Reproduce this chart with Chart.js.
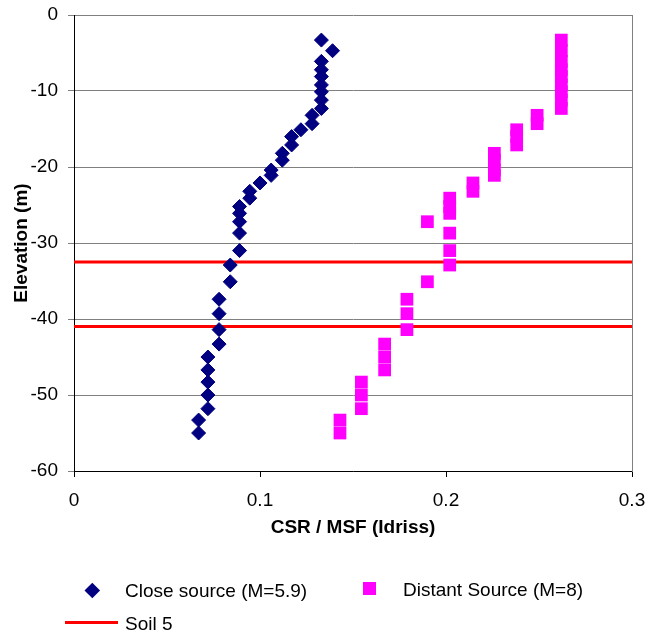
<!DOCTYPE html>
<html>
<head>
<meta charset="utf-8">
<script src="https://cdn.jsdelivr.net/npm/chart.js@4/dist/chart.umd.min.js"></script>
<style>
    body { margin: 0; background: #fff; }
    #wrap { position: relative; width: 648px; height: 634px; font-family: "Liberation Sans", Arial, sans-serif; }
    #chart { position: absolute; left: 0; top: 0; }
    .lg { position: absolute; font-size: 19px; line-height: 22px; color: #000; white-space: nowrap; }
    .sym { position: absolute; }
</style>
</head>
<body>
<div id="wrap">
    <canvas id="chart" width="648" height="634"></canvas>
    <div class="sym" style="left:87px; top:585px; width:10.6px; height:10.6px; background:#000080; transform:rotate(45deg);"></div>
    <div class="lg" style="left:125px; top:580px;">Close source (M=5.9)</div>
    <div class="sym" style="left:363px; top:582px; width:13px; height:13px; background:#FF00FF;"></div>
    <div class="lg" style="left:403px; top:579px;">Distant Source (M=8)</div>
    <div class="sym" style="left:65px; top:621px; width:53px; height:3px; background:#FF0000;"></div>
    <div class="lg" style="left:125px; top:613px;">Soil 5</div>
</div>
<script>
// Elevation of each sample (m), shared by both series.
const elevations = [
    -3.3, -4.7, -6.1, -7.2, -8.1, -9.2, -10.1, -11.2, -12.3, -13.2,
    -14.3, -15.1, -16.0, -17.1, -18.2, -19.1, -20.4, -21.1, -22.1, -23.2,
    -24.1, -25.2, -26.1, -27.2, -28.7, -31.0, -32.9, -35.1, -37.4, -39.3,
    -41.4, -43.3, -45.0, -46.7, -48.3, -50.0, -51.8, -53.3, -55.0,
];

// CSR / MSF, close source (M=5.9).
const closeSource = [
    0.133, 0.139, 0.133, 0.133, 0.133, 0.133, 0.133, 0.133, 0.133, 0.128,
    0.128, 0.122, 0.117, 0.117, 0.112, 0.112, 0.106, 0.106, 0.100, 0.0945,
    0.0945, 0.089, 0.089, 0.089, 0.089, 0.089, 0.084, 0.084, 0.078, 0.078,
    0.078, 0.078, 0.072, 0.072, 0.072, 0.072, 0.072, 0.067, 0.067,
];

// CSR / MSF, distant source (M=8).
const distantSource = [
    0.262, 0.262, 0.262, 0.262, 0.262, 0.262, 0.262, 0.262, 0.262, 0.249,
    0.249, 0.238, 0.238, 0.238, 0.226, 0.226, 0.226, 0.226, 0.2145, 0.2145,
    0.202, 0.202, 0.202, 0.190, 0.202, 0.202, 0.202, 0.190, 0.179, 0.179,
    0.179, 0.167, 0.167, 0.167, 0.1545, 0.1545, 0.1545, 0.143, 0.143,
];

// Soil 5 layer boundaries (m).
const soilLevels = [-32.5, -41.0];

const X_MIN = 0, X_MAX = 0.3;

const FONT = '"Liberation Sans", Arial, sans-serif';

function pairs(xs) {
    return xs.map((x, i) => ({ x: x, y: elevations[i] }));
}

// Pin the box sizes so the plot area lands where the original has it.
function fixBox(w, h) {
    return s => {
        if (w !== null) s.width = w;
        if (h !== null) s.height = h;
        s.paddingTop = 0;
        s.paddingBottom = 0;
        s.paddingLeft = 0;
        s.paddingRight = 0;
    };
}

const datasets = [
    {
        label: 'Close source (M=5.9)',
        data: pairs(closeSource),
        pointStyle: 'rectRot',
        pointRadius: 7,
        backgroundColor: '#000080',
        borderColor: '#000080',
        borderWidth: 1,
        showLine: false,
    },
    {
        label: 'Distant Source (M=8)',
        data: pairs(distantSource),
        pointStyle: 'rect',
        pointRadius: 9,
        backgroundColor: '#FF00FF',
        borderColor: '#FF00FF',
        borderWidth: 0,
        showLine: false,
    },
];

soilLevels.forEach(level => {
    datasets.push({
        label: 'Soil 5',
        data: [{ x: X_MIN, y: level }, { x: X_MAX, y: level }],
        showLine: true,
        pointRadius: 0,
        borderColor: '#FF0000',
        borderWidth: 3,
    });
});

new Chart(document.getElementById('chart'), {
    type: 'scatter',
    data: { datasets: datasets },
    options: {
        responsive: false,
        animation: false,
        devicePixelRatio: 1,
        layout: { padding: { top: 15, left: 0, right: 0, bottom: 0 } },
        plugins: {
            legend: { display: false },
            tooltip: { enabled: false },
        },
        scales: {
            x: {
                type: 'linear',
                min: X_MIN,
                max: X_MAX,
                afterFit: fixBox(null, 163),
                ticks: {
                    stepSize: 0.1,
                    padding: 12,
                    color: '#000',
                    font: { family: FONT, size: 19 },
                    callback: v => String(Number(v.toFixed(2))),
                },
                grid: {
                    drawOnChartArea: false,
                    tickLength: 6,
                    color: '#000',
                },
                border: { color: '#000', width: 1 },
                title: {
                    display: true,
                    text: 'CSR / MSF (Idriss)',
                    color: '#000',
                    font: { family: FONT, size: 19, weight: 'bold' },
                    padding: { top: 0, bottom: 95 },
                },
            },
            y: {
                type: 'linear',
                position: 'left',
                min: -60,
                max: 0,
                afterFit: fixBox(74, null),
                ticks: {
                    stepSize: 10,
                    padding: 10,
                    color: '#000',
                    font: { family: FONT, size: 19 },
                },
                grid: {
                    color: '#808080',
                    lineWidth: 1,
                    tickLength: 6,
                },
                border: { color: '#000', width: 1 },
                title: {
                    display: true,
                    text: 'Elevation (m)',
                    color: '#000',
                    font: { family: FONT, size: 19, weight: 'bold' },
                    padding: { top: 10, bottom: 0 },
                },
            },
            y2: {
                type: 'linear',
                position: 'right',
                min: -60,
                max: 0,
                afterFit: fixBox(16, null),
                ticks: { display: false },
                grid: { drawOnChartArea: false, drawTicks: false },
                border: { color: '#808080', width: 1 },
            },
        },
    },
});
</script>
</body>
</html>
